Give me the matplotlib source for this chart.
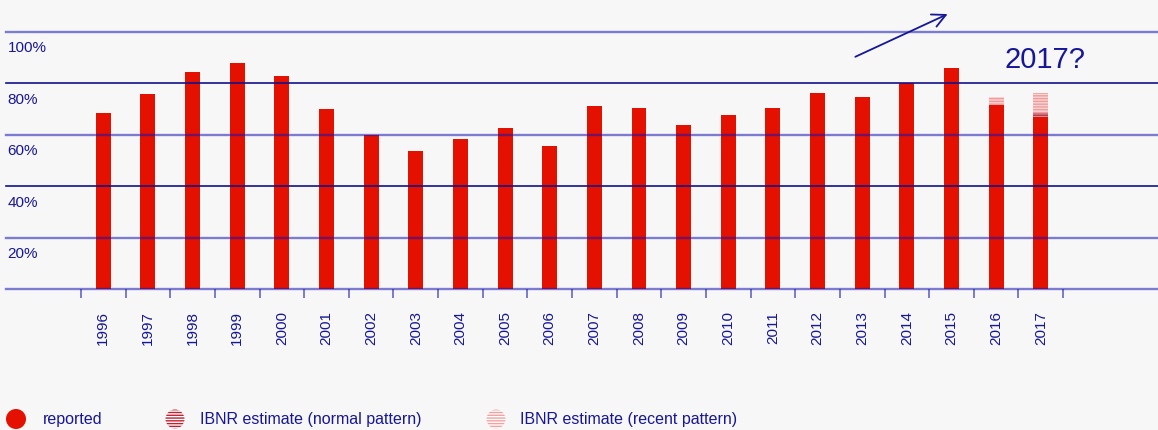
import matplotlib
matplotlib.use("Agg")
import matplotlib.pyplot as plt
from matplotlib.patches import Circle
import numpy as np

plt.rcParams['font.family'] = ['Liberation Sans', 'DejaVu Sans']
plt.rcParams['hatch.linewidth'] = 1.0

years = [str(y) for y in range(1996, 2018)]
reported = [68.5, 75.9, 84.3, 88.0, 82.9, 70.0, 60.0, 53.6, 58.3, 62.6, 55.7,
            71.2, 70.3, 63.7, 67.6, 70.3, 76.2, 74.6, 80.1, 85.9, 71.5, 67.0]
ibnr_normal = [0] * 20 + [0.0, 1.5]
ibnr_recent = [0] * 20 + [3.1, 7.8]
grid_levels = [20, 40, 60, 80, 100]
grid_labels = ['20%', '40%', '60%', '80%', '100%']

BG = '#f7f7f7'
NAVY = '#16169a'
RED = '#e41000'

fig = plt.figure(figsize=(11.58, 4.30), dpi=100, facecolor=BG)
ax = fig.add_axes([6 / 1158, 141 / 430, 1 - 6 / 1158, 289 / 430])
ax.set_facecolor(BG)

x = np.arange(len(years))
unit = 44.64
left_px = 6 - 81
ax.set_xlim(-0.5 + left_px / unit, -0.5 + (1158 - 81) / unit)
ax.set_ylim(0, 289 / 2.573)

w = 0.336
rep = np.array(reported)
nrm = np.array(ibnr_normal)
rec = np.array(ibnr_recent)
ax.bar(x, rep, width=w, color=RED, zorder=2, linewidth=0)
ax.bar(x, nrm, bottom=rep, width=w, facecolor='#d98a90', edgecolor='#b04050',
       hatch='------', linewidth=0, zorder=2)
ax.bar(x, rec, bottom=rep + nrm, width=w, facecolor='#fcd6d6', edgecolor='#f29a9a',
       hatch='------', linewidth=0, zorder=2)

# grid lines
for lv in [0] + grid_levels:
    if lv in (40, 80):
        ax.axhline(lv, color='#12128a', lw=1.2, zorder=3, clip_on=False)
    else:
        ax.axhline(lv, color='#1515b0', lw=1.7, alpha=0.55, zorder=3, clip_on=False)

for lv, lab in zip(grid_levels, grid_labels):
    ax.annotate(lab, xy=(0, lv), xycoords=('axes fraction', 'data'),
                xytext=(1, -7), textcoords='offset points', va='top', ha='left',
                fontsize=11, color=NAVY)

for s in ax.spines.values():
    s.set_visible(False)
ax.set_yticks([])
ax.set_xticks(x)
ax.set_xticklabels(years, rotation=90, fontsize=11, color=NAVY)
ax.tick_params(axis='x', which='major', length=0, pad=16)
ax.set_xticks(np.arange(len(years) + 1) - 0.5, minor=True)
ax.tick_params(axis='x', which='minor', length=6.5, width=1.3, color='#7070d0',
               direction='out')

ax.annotate('', xy=(18.97, 107.3), xytext=(16.79, 89.8),
            arrowprops=dict(arrowstyle='->', color=NAVY, lw=1.3, mutation_scale=24))
ax.text(21.1, 89.0, '2017?', fontsize=21, color=NAVY, ha='center', va='center')

# legend
lax = fig.add_axes([0, 0, 1, 43 / 430])
lax.set_xlim(0, 1158)
lax.set_ylim(0, 43)
lax.axis('off')
lax.add_patch(Circle((16, 11), 10, facecolor=RED, edgecolor='none'))
lax.text(43, 10.5, 'reported', fontsize=11.5, color=NAVY, va='center')
lax.add_patch(Circle((175, 11), 9.5, facecolor='white', edgecolor='#c02030',
                     hatch='------', linewidth=0))
lax.text(200, 10.5, 'IBNR estimate (normal pattern)', fontsize=11.5, color=NAVY, va='center')
lax.add_patch(Circle((496, 11), 9.5, facecolor='white', edgecolor='#f4a0a0',
                     hatch='------', linewidth=0))
lax.text(520, 10.5, 'IBNR estimate (recent pattern)', fontsize=11.5, color=NAVY, va='center')

fig.savefig('out.png', dpi=100, facecolor=BG)
